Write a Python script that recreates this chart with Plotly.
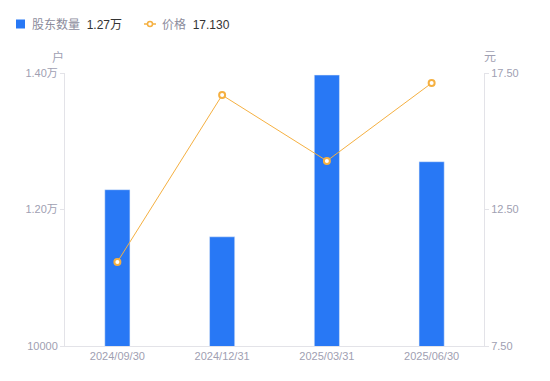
import plotly.graph_objects as go

categories = ["2024/09/30", "2024/12/31", "2025/03/31", "2025/06/30"]
holders = [12290, 11600, 13970, 12700]
prices = [10.58, 16.69, 14.28, 17.13]
left_tickvals = [10000, 12000, 14000]
left_ticktext = ["10000", "1.20万", "1.40万"]
right_tickvals = [7.5, 12.5, 17.5]
right_ticktext = ["7.50", "12.50", "17.50"]

BLUE = "#2878F5"
ORANGE = "#F5B041"
TICK = "#A0A0B2"
AXIS = "#E3E3E8"
FONT = "'Liberation Sans', Arial, 'Noto Sans CJK SC', sans-serif"

W, H = 419, 273
def px(x):
    return (x - 65) / W
def py(y):
    return (346 - y) / H

fig = go.Figure()
fig.add_trace(go.Bar(x=categories, y=holders, marker_color=BLUE, width=0.24,
                     name="股东数量", yaxis="y"))
fig.add_trace(go.Scatter(x=categories, y=prices, mode="lines+markers", name="价格",
                         line=dict(color=ORANGE, width=1),
                         marker=dict(size=6, color="white", line=dict(color=ORANGE, width=2)),
                         yaxis="y2"))

fig.update_layout(
    width=550, height=381,
    margin=dict(l=65, r=66, t=73, b=35),
    paper_bgcolor="white", plot_bgcolor="white",
    showlegend=False,
    font=dict(family=FONT, size=11, color=TICK),
    xaxis=dict(showgrid=False, showline=True, linecolor=AXIS, linewidth=1,
               ticks="", tickfont=dict(size=11, color=TICK), zeroline=False),
    yaxis=dict(range=[10000, 14000], tickvals=left_tickvals, ticktext=left_ticktext,
               showgrid=False, showline=True, linecolor=AXIS, linewidth=1,
               ticks="outside", ticklen=4, tickcolor=AXIS, zeroline=False,
               tickfont=dict(size=11, color=TICK)),
    yaxis2=dict(range=[7.5, 17.5], tickvals=right_tickvals, ticktext=right_ticktext,
                overlaying="y", side="right", anchor="x",
                showgrid=False, showline=True, linecolor=AXIS, linewidth=1,
                ticks="outside", ticklen=4, tickcolor=AXIS, zeroline=False,
                tickfont=dict(size=11, color=TICK)),
)

# axis unit titles
fig.add_annotation(xref="paper", yref="paper", x=px(58), y=py(57),
                   xanchor="center", yanchor="middle",
                   text="户", showarrow=False, font=dict(size=12, color=TICK))
fig.add_annotation(xref="paper", yref="paper", x=px(490), y=py(57),
                   xanchor="center", yanchor="middle",
                   text="元", showarrow=False, font=dict(size=12, color=TICK))

# legend drawn manually
fig.add_shape(type="rect", xref="paper", yref="paper",
              x0=px(16), x1=px(25), y0=py(28.5), y1=py(19.5),
              fillcolor=BLUE, line=dict(width=0))
fig.add_annotation(xref="paper", yref="paper", x=px(30), y=py(24.5),
                   xanchor="left", yanchor="middle", showarrow=False,
                   text="<span style='color:#8C8C9C'>股东数量</span>  <span style='color:#333333'>1.27万</span>",
                   font=dict(size=12))
fig.add_shape(type="line", xref="paper", yref="paper",
              x0=px(144), x1=px(156), y0=py(24), y1=py(24),
              line=dict(color=ORANGE, width=1.5))
fig.add_shape(type="circle", xref="paper", yref="paper",
              x0=px(147.5), x1=px(152.5), y0=py(26.5), y1=py(21.5),
              fillcolor="white", line=dict(color=ORANGE, width=1.5))
fig.add_annotation(xref="paper", yref="paper", x=px(160), y=py(24.5),
                   xanchor="left", yanchor="middle", showarrow=False,
                   text="<span style='color:#8C8C9C'>价格</span>  <span style='color:#333333'>17.130</span>",
                   font=dict(size=12))

fig.write_html("out.html")
